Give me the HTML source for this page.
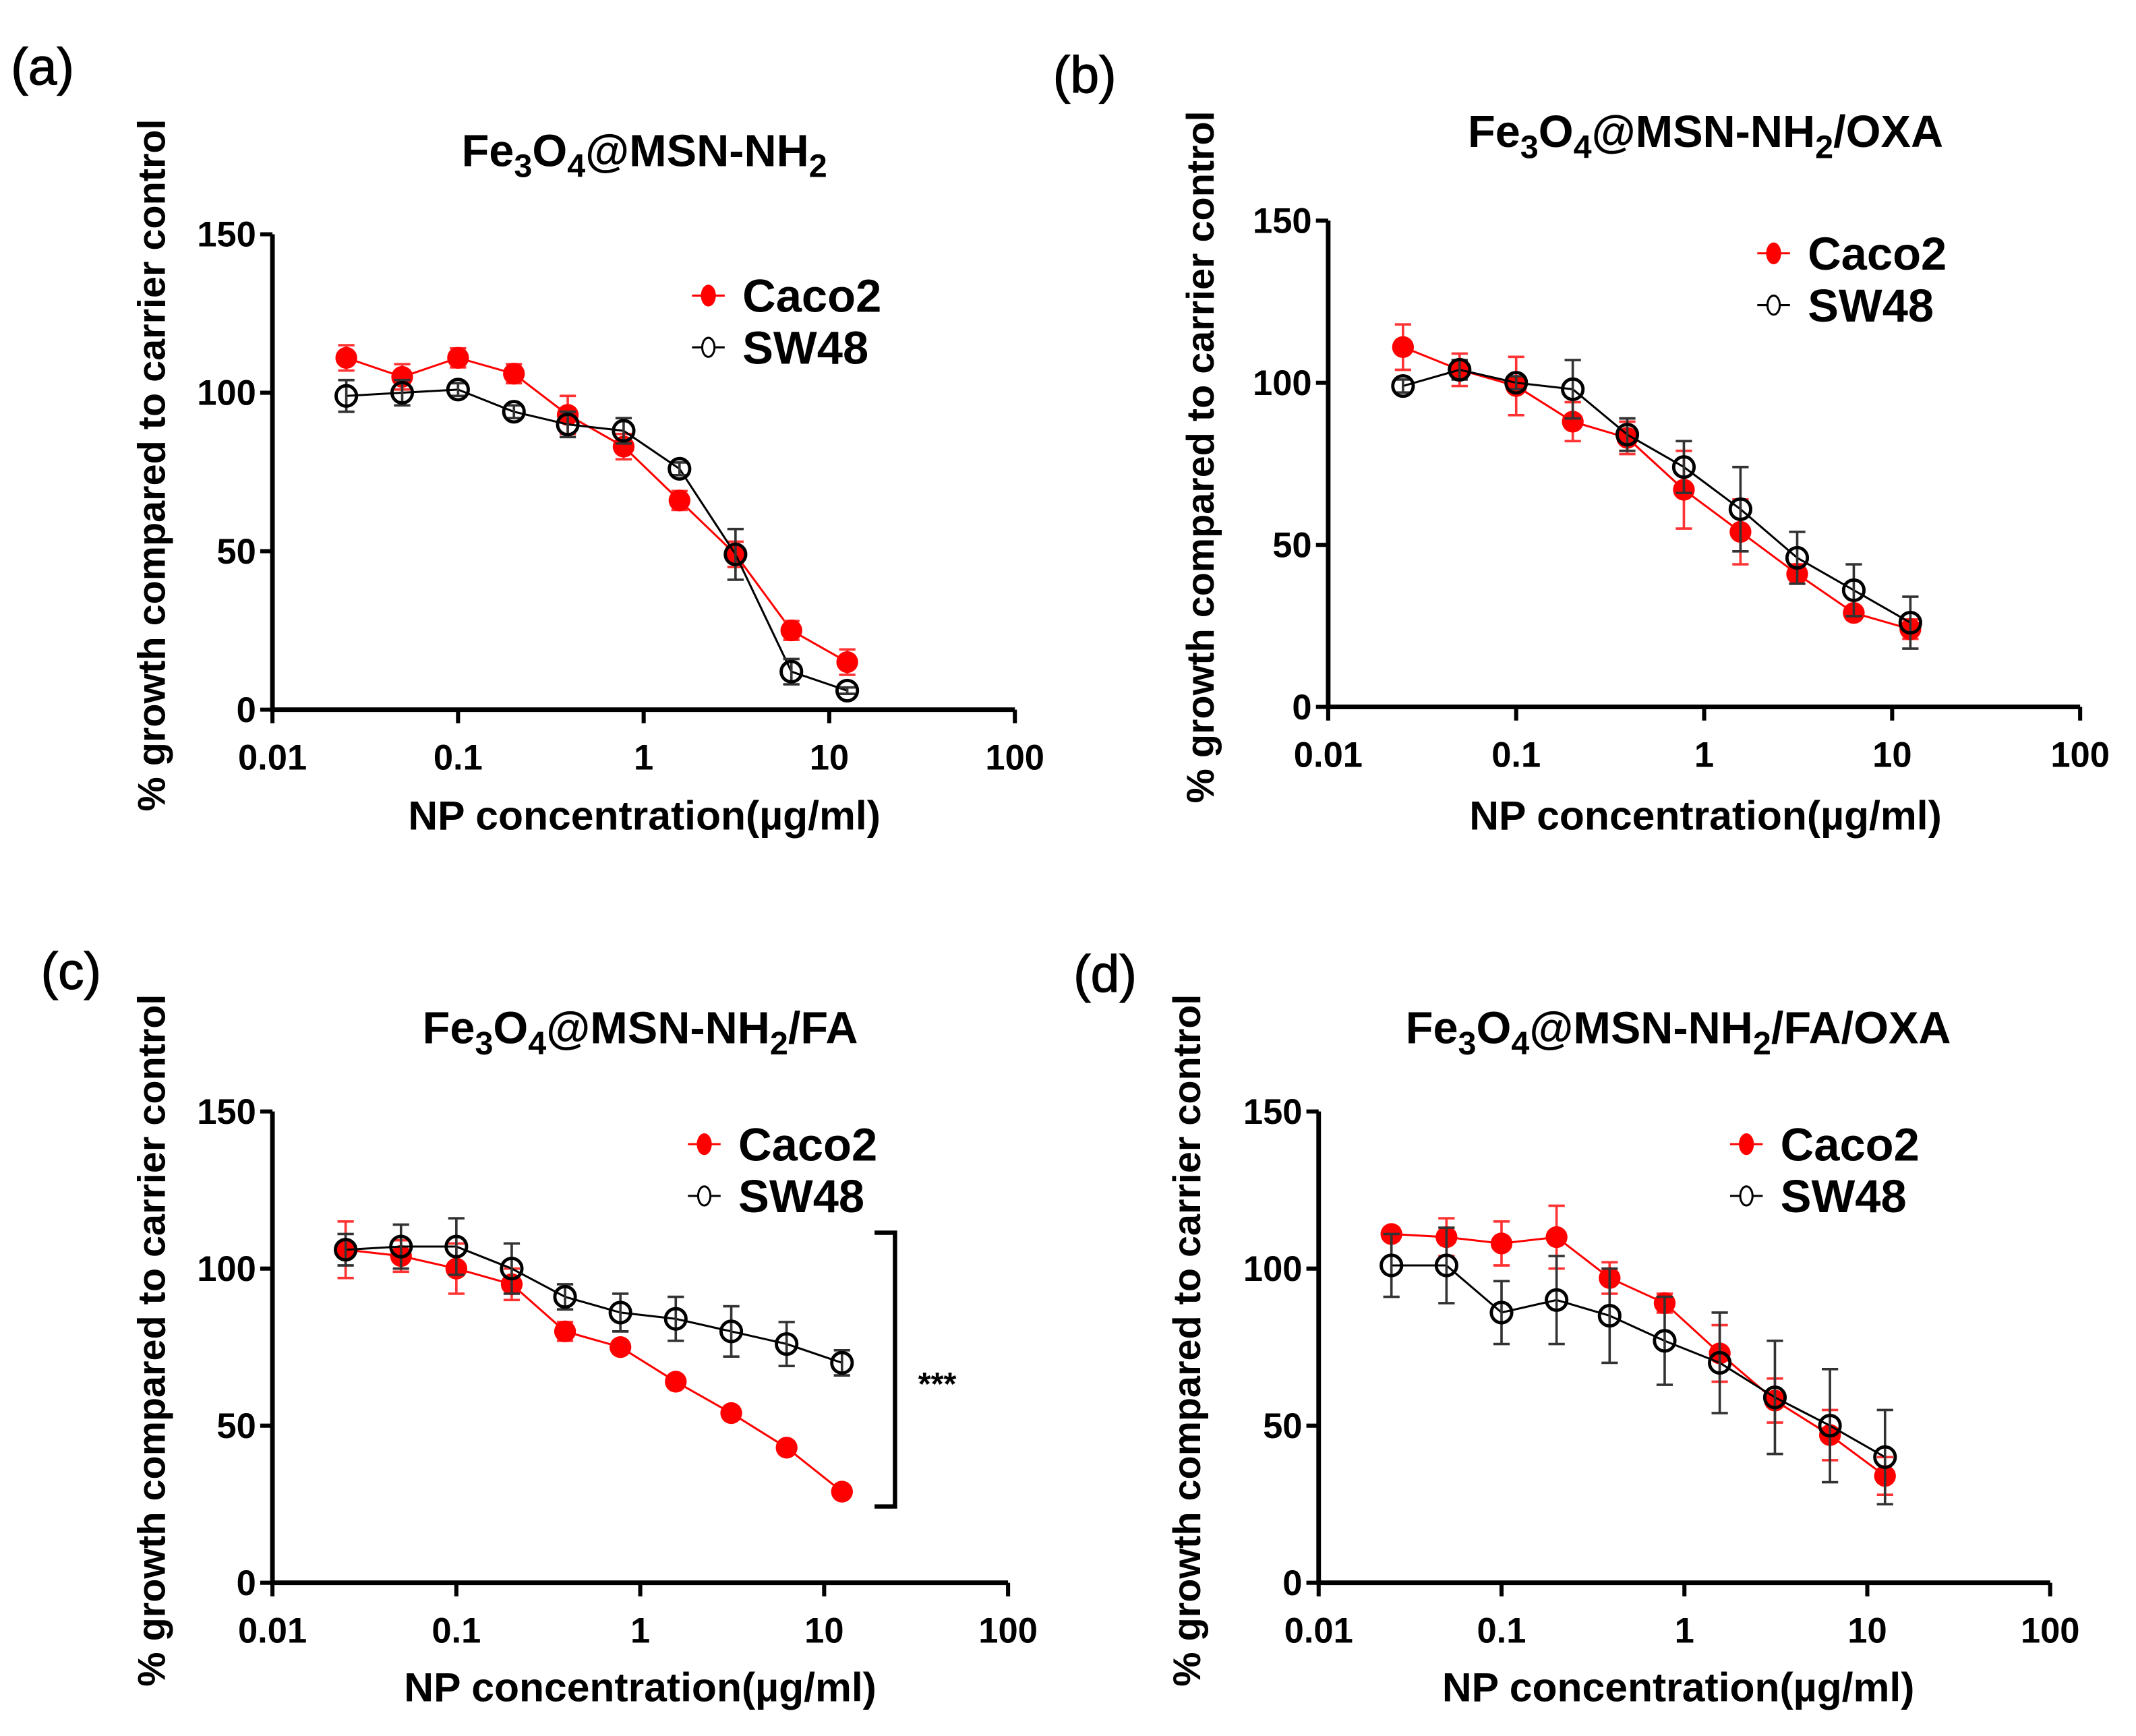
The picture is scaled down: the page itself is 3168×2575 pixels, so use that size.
<!DOCTYPE html>
<html><head><meta charset="utf-8"><style>
html,body{margin:0;padding:0;background:#fff}
svg{display:block}
text{font-family:"Liberation Sans",Arial,sans-serif;font-weight:bold;fill:#000}
</style></head><body>
<svg id="fig" width="3168" height="2575" viewBox="0 0 1568 1274.5" xmlns="http://www.w3.org/2000/svg"></svg>
<script>
const concentrations = [0.025,0.05,0.1,0.2,0.39,0.78,1.56,3.125,6.25,12.5];
const xTickLabels = ["0.01","0.1","1","10","100"];
const yTickLabels = ["0","50","100","150"];
const aCaco2 = [111,105,111,106,93,83,66,49,25,15];
const aCaco2Err = [4,4,3,3,6,4,3,4,3,4];
const aSW48 = [99,100,101,94,90,88,76,49,12,6];
const aSW48Err = [5,4,2,2,4,4,2,8,4,1];
const bCaco2 = [111,104,99,88,83,67,54,41,29,24];
const bCaco2Err = [7,5,9,6,5,12,10,3,2,3];
const bSW48 = [99,104,100,98,84,74,61,46,36,26];
const bSW48Err = [2,3,2,9,5,8,13,8,8,8];
const cCaco2 = [106,104,100,95,80,75,64,54,43,29];
const cCaco2Err = [9,5,8,5,3,2,2,2,2,1];
const cSW48 = [106,107,107,100,91,86,84,80,76,70];
const cSW48Err = [5,7,9,8,4,6,7,8,7,4];
const dCaco2 = [111,110,108,110,97,89,73,58,47,34];
const dCaco2Err = [2,6,7,10,5,3,9,7,8,6];
const dSW48 = [101,101,86,90,85,77,70,59,50,40];
const dSW48Err = [10,12,10,14,15,14,16,18,18,15];

const NS="http://www.w3.org/2000/svg";
const svg=document.getElementById('fig');
function mk(tag,attrs,parent,txt){const e=document.createElementNS(NS,tag);for(const k in attrs)e.setAttribute(k,attrs[k]);if(txt!==undefined)e.textContent=txt;(parent||svg).appendChild(e);return e;}

const panels=[
 {id:'a',label:'(a)',lx:8,ly:60,x0:200,x1:745,y0:521,y150:172,title:['Fe','3','O','4','@MSN-NH','2',''],tx:473,ty:122,ytx:112,xtx:473,xty:611,legx:520,legy:217,c:aCaco2,ce:aCaco2Err,s:aSW48,se:aSW48Err},
 {id:'b',label:'(b)',lx:773,ly:66,x0:975,x1:1527,y0:519,y150:162,title:['Fe','3','O','4','@MSN-NH','2','/OXA'],tx:1252,ty:108,ytx:882,xtx:1252,xty:611,legx:1302,legy:186,c:bCaco2,ce:bCaco2Err,s:bSW48,se:bSW48Err},
 {id:'c',label:'(c)',lx:30,ly:724,x0:200,x1:740,y0:1162,y150:816,title:['Fe','3','O','4','@MSN-NH','2','/FA'],tx:470,ty:766,ytx:112,xtx:470,xty:1251,legx:517,legy:840,c:cCaco2,ce:cCaco2Err,s:cSW48,se:cSW48Err},
 {id:'d',label:'(d)',lx:788,ly:726,x0:968,x1:1505,y0:1162,y150:816,title:['Fe','3','O','4','@MSN-NH','2','/FA/OXA'],tx:1232,ty:766,ytx:872,xtx:1232,xty:1251,legx:1282,legy:840,c:dCaco2,ce:dCaco2Err,s:dSW48,se:dSW48Err}
];

panels.forEach(p=>{
 const g=mk('g',{});
 
 
 const dec=(p.x1-p.x0)/4;
 const X=v=>p.x0+(Math.log10(v)+2)*dec;
 const Y=v=>p.y0-(v/150)*(p.y0-p.y150);
 const pl=mk('text',{x:p.lx,y:p.ly+2,'font-size':38,style:'font-weight:normal;stroke:#000;stroke-width:0.6'},g,p.label);
 
 
 const t=mk('text',{x:p.tx,y:p.ty,'font-size':33,'text-anchor':'middle'},g);
 
 
 p.title.forEach((s,i)=>{ if(!s) return; const sub=i%2===1; mk('tspan',sub?{'font-size':24,dy:8}:{dy:(i>0)?-8:0},t,s);});
 const ax=mk('path',{d:`M${p.x0},${p.y150} V${p.y0} H${p.x1}`,stroke:'#000','stroke-width':3.4,fill:'none'},g);
 
 
 yTickLabels.forEach(l=>{const v=+l;const y=Y(v);
  mk('line',{x1:p.x0-9,x2:p.x0,y1:y,y2:y,stroke:'#000','stroke-width':3},g);
  const tt=mk('text',{x:p.x0-12,y:y+9,'font-size':26,'text-anchor':'end'},g,l);
  
  });
 xTickLabels.forEach(l=>{const x=X(+l);
  mk('line',{x1:x,x2:x,y1:p.y0,y2:p.y0+10,stroke:'#000','stroke-width':3},g);
  const tt=mk('text',{x:x,y:p.y0+44,'font-size':26,'text-anchor':'middle'},g,l);
  
  });
 const yt=mk('text',{x:0,y:0,'font-size':28.5,'text-anchor':'middle',transform:`translate(${p.ytx+9},${(p.y0+p.y150)/2-5}) rotate(-90)`},g,'% growth compared to carrier control');
 
 
 const xt=mk('text',{x:p.xtx,y:p.xty-2,'font-size':30,'text-anchor':'middle'},g,'NP concentration(µg/ml)');
 
 
 [[p.c,p.ce,'#ff0000','caco2'],[p.s,p.se,'#000','sw48']].forEach(([vals,errs,col,nm])=>{
  const sg=mk('g',{},g);
  
  
  const pts=concentrations.map((c,i)=>X(c)+','+Y(vals[i])).join(' ');
  mk('polyline',{points:pts,fill:'none',stroke:col,'stroke-width':1.5},sg);
  concentrations.forEach((c,i)=>{
   const x=X(c),y=Y(vals[i]),e=errs[i];
   const eb=mk('path',{d:`M${x},${Y(vals[i]+e)} V${Y(vals[i]-e)} M${x-6},${Y(vals[i]+e)} h12 M${x-6},${Y(vals[i]-e)} h12`,stroke:col==='#000'?'#333':'#f33','stroke-width':1.8,fill:'none'},sg);
   
   
   let m;
   if(nm==='caco2') m=mk('circle',{cx:x,cy:y,r:8,fill:'#ff0000'},sg);
   else m=mk('circle',{cx:x,cy:y,r:7.5,fill:'none',stroke:'#000','stroke-width':2.4},sg);
   
   
  });
 });
 [['Caco2','#ff0000',0],['SW48','#000',38]].forEach(([n,col,dy])=>{
  const lg=mk('g',{},g);
  
  
  const y=p.legy+dy;
  mk('line',{x1:p.legx-12,x2:p.legx+12,y1:y,y2:y,stroke:col,'stroke-width':1.5},lg);
  if(col==='#000') mk('ellipse',{cx:p.legx,cy:y,rx:4.5,ry:7,fill:'#fff',stroke:'#000','stroke-width':1.5},lg);
  else mk('ellipse',{cx:p.legx,cy:y,rx:5.5,ry:8,fill:col},lg);
  mk('text',{x:p.legx+25,y:y+12,'font-size':34},lg,n);
 });
 if(p.id==='c'){
  const br=mk('path',{d:'M642,905 H657 V1106 H642',stroke:'#000','stroke-width':3.2,fill:'none'},g);
  
  
  const st=mk('text',{x:674,y:1024,'font-size':24},g,'***');
  
  
 }
});
</script>
</body></html>
